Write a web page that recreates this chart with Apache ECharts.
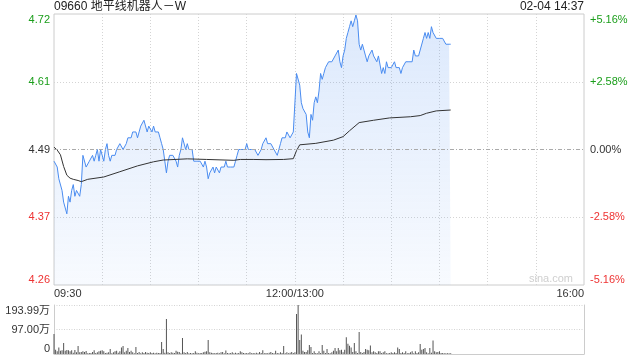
<!DOCTYPE html>
<html><head><meta charset="utf-8">
<script src="https://cdn.jsdelivr.net/npm/echarts@6/dist/echarts.min.js"></script>
<style>html,body{margin:0;padding:0;background:#fff}#c{width:640px;height:360px}</style>
</head><body><div id="c"></div>
<script>
const titleText = '09660 地平线机器人－W';
const timeText = '02-04 14:37';
const prevClose = 4.49;
const pctRange = 5.16;
const pctStep = 2.58;

// minute prices 09:30 .. 11:33
const priceAM = [4.47,4.47,4.46,4.44,4.44,4.42,4.40,4.39,4.38,4.41,4.40,4.42,4.43,4.41,
4.42,4.42,
4.41,4.43,4.48,4.48,4.46,4.46,4.47,4.47,4.48,4.47,4.48,4.49,4.47,4.49,4.48,4.47,4.49,4.50,4.48,4.47,4.48,4.48,4.48,4.49,4.49,4.50,4.50,
4.49,4.49,
4.50,4.51,4.51,4.51,4.52,4.52,4.52,4.51,4.52,4.53,4.53,4.54,4.54,4.52,4.53,4.53,4.52,4.53,4.52,4.52,4.52,4.51,4.50,4.49,4.47,4.45,4.47,
4.48,4.48,
4.48,4.48,4.47,4.46,4.48,4.49,4.51,4.51,4.49,4.50,4.49,4.49,4.49,4.47,4.47,4.47,4.47,4.47,4.47,4.46,4.47,4.46,4.44,4.45,4.45,4.46,4.45,
4.46,4.46,
4.45,4.46,4.46,4.46,4.47,4.46,4.46,4.46,4.46,4.46,4.47,4.48,4.49,4.49,4.49,4.49,4.49,4.50,4.49,4.49,4.49];
// minute prices 11:34 .. 14:37
const pricePM = [4.49,4.49,4.49,4.48,4.48,4.49,4.50,4.50,4.51,4.50,4.50,4.50,4.50,4.49,4.49,4.48,4.49,4.50,4.51,4.51,4.51,4.52,4.52,
4.51,4.51,
4.52,4.52,4.62,4.62,4.60,4.57,4.56,4.56,4.55,4.52,4.51,4.55,4.54,4.57,4.58,4.57,4.59,4.62,4.61,4.62,4.63,4.63,4.64,4.64,
4.64,4.64,
4.65,4.65,4.66,4.64,4.63,4.65,4.66,4.68,4.69,4.70,4.71,4.70,4.71,4.72,4.71,4.67,4.66,4.67,4.66,4.65,4.64,4.65,4.65,4.66,
4.65,4.65,
4.64,4.65,4.65,4.62,4.63,4.62,4.64,4.63,4.63,4.63,4.63,4.64,4.63,4.63,4.63,4.62,4.63,4.63,4.64,4.64,4.64,4.64,4.64,4.66,
4.65,4.65,
4.65,4.66,4.66,4.68,4.69,4.68,4.69,4.68,4.70,4.69,4.69,4.68,4.68,4.68,
4.68,4.68,
4.68,4.67,4.67,4.67,4.67];

const avgMinutes = [0,2,4,6,8,10,12,15,17,21,31,41,52,62,68,83,95,112,116,124,132,143,149,151,153,163,174,180,184,190,199,209,222,228,232,238,247];
const avgPrices = [4.494,4.489,4.481,4.461,4.446,4.441,4.439,4.437,4.435,4.439,4.443,4.452,4.462,4.469,4.472,4.474,4.473,4.4715,4.473,4.473,4.4726,4.473,4.4743,4.488,4.498,4.5005,4.506,4.512,4.522,4.536,4.540,4.544,4.546,4.548,4.552,4.556,4.5575];

// volume (万)
const volAM = [79,17,11,26,13,15,44,13,16,15,
11,15,5,16,7,32,7,8,11,8,
12,3,4,4,8,15,4,7,11,13,
15,11,4,5,7,20,3,7,11,13,
5,11,26,32,7,13,24,8,13,7,
3,28,4,8,3,7,4,8,5,4,
7,4,5,3,5,4,4,48,20,5,
139,7,4,7,5,4,13,9,8,3,
63,7,4,8,3,4,3,4,11,5,
3,4,4,7,9,11,55,7,5,4,
3,4,5,3,7,8,3,14,4,3,
4,7,3,5,3,4,11,7,4,3,
4,3,7,3];
const volPM = [4,3,5,3,8,4,15,3,4,3,
5,8,4,3,13,4,3,7,4,32,
3,7,3,5,8,4,7,158,193.99,55,
77,13,8,8,15,36,28,4,11,4,
3,11,4,36,13,4,20,4,3,7,
13,24,11,24,15,17,7,17,66,41,
33,26,8,44,11,4,
87,8,4,8,20,17,15,34,7,11,
7,4,11,11,4,7,11,3,3,4,
7,4,7,4,26,20,4,7,4,11,
3,4,7,11,3,11,4,7,40,17,
20,24,7,3,24,5,53,11,7,8,
11,4,4,3,3,3,3,3];
const volMax = 193.99;

const xTickIndex = [0, 150, 330];
const xTickLabels = ['09:30', '12:00/13:00', '16:00'];

const categories = [];
for (let i = 0; i <= 330; i++) {
  const k = xTickIndex.indexOf(i);
  if (k >= 0) { categories.push(xTickLabels[k]); continue; }
  const m = i < 150 ? 570 + i : 780 + (i - 150);
  categories.push(String(Math.floor(m / 60)).padStart(2, '0') + ':' + String(m % 60).padStart(2, '0'));
}

const prices = priceAM.concat(pricePM);
const vols = volAM.concat(volPM);
const toPct = p => (p / prevClose - 1) * 100;
const FONT = 'Arial, "Liberation Sans", "Noto Sans CJK SC", sans-serif';
const GREEN = '#1a9e1a', RED = '#ee3333', DARK = '#333';
const colorFor = v => v > 1e-6 ? GREEN : (v < -1e-6 ? RED : DARK);
const gridColor = '#d4d4d4';

const chart = echarts.init(document.getElementById('c'), null, {renderer: 'canvas'});
chart.setOption({
  animation: false,
  textStyle: {fontFamily: FONT},
  grid: [
    {left: 54, right: 56, top: 14, height: 271, show: true, borderColor: '#ccc', borderWidth: 1},
    {left: 54, right: 56, top: 305, height: 49}
  ],
  xAxis: [
    {gridIndex: 0, type: 'category', data: categories, boundaryGap: false,
     axisLine: {show: false}, axisTick: {show: false},
     axisLabel: {show: true, interval: (i) => xTickIndex.indexOf(i) >= 0, fontSize: 11, color: DARK, margin: 3,
                 alignMinLabel: 'left', alignMaxLabel: 'right', fontFamily: FONT},
     splitLine: {show: true, interval: (i) => i % 30 === 0 && i !== 0 && i !== 330,
                 lineStyle: {color: gridColor, type: [1, 2], width: 1}}},
    {gridIndex: 1, type: 'category', data: categories, boundaryGap: false,
     axisLine: {show: true, lineStyle: {color: '#ccc'}}, axisTick: {show: false},
     axisLabel: {show: false}, splitLine: {show: false}}
  ],
  yAxis: [
    {gridIndex: 0, type: 'value', min: -pctRange, max: pctRange, interval: pctStep, position: 'left',
     axisLine: {show: false}, axisTick: {show: false},
     splitLine: {show: true, lineStyle: {color: ['transparent', gridColor, 'transparent', gridColor, 'transparent'], type: [1, 2]}},
     axisLabel: {fontSize: 11, margin: 4, color: colorFor, fontFamily: FONT,
                 formatter: v => (prevClose * (1 + v / 100)).toFixed(2),
                 verticalAlignMinLabel: 'bottom', verticalAlignMaxLabel: 'top'}},
    {gridIndex: 0, type: 'value', min: -pctRange, max: pctRange, interval: pctStep, position: 'right',
     axisLine: {show: false}, axisTick: {show: false}, splitLine: {show: false},
     axisLabel: {fontSize: 11, margin: 6, color: colorFor, fontFamily: FONT,
                 formatter: v => Math.abs(v) < 1e-6 ? '0.00%' : (v > 0 ? '+' : '') + v.toFixed(2) + '%',
                 verticalAlignMinLabel: 'bottom', verticalAlignMaxLabel: 'top'}},
    {gridIndex: 1, type: 'value', min: 0, max: volMax, interval: volMax / 2, position: 'left',
     axisLine: {show: true, lineStyle: {color: '#ccc'}}, axisTick: {show: false},
     splitLine: {show: true, lineStyle: {color: ['transparent', gridColor, gridColor], type: [1, 1.5]}},
     axisLabel: {fontSize: 11, margin: 4, color: DARK, fontFamily: FONT,
                 formatter: v => v < 1e-6 ? '0' : (v + 1e-9).toFixed(2) + '万',
                 verticalAlignMinLabel: 'bottom', verticalAlignMaxLabel: 'top'}},
    {gridIndex: 1, type: 'value', min: 0, max: volMax, position: 'right',
     axisLine: {show: true, lineStyle: {color: '#ccc'}}, axisTick: {show: false},
     axisLabel: {show: false}, splitLine: {show: false}}
  ],
  series: [
    {type: 'line', xAxisIndex: 0, yAxisIndex: 0, data: prices.map(toPct), symbol: 'none', showSymbol: false,
     lineStyle: {color: '#4a8cf0', width: 1},
     areaStyle: {origin: 'start', color: new echarts.graphic.LinearGradient(0, 0, 0, 1, [
       {offset: 0, color: 'rgba(74,140,240,0.28)'}, {offset: 1, color: 'rgba(74,140,240,0.06)'}])},
     markLine: {silent: true, symbol: 'none', label: {show: false}, animation: false,
                lineStyle: {color: '#aaa', type: [4, 2, 1, 2], width: 1}, data: [{yAxis: 0}]}},
    {type: 'line', xAxisIndex: 0, yAxisIndex: 0, data: avgMinutes.map((m, i) => [m, toPct(avgPrices[i])]),
     symbol: 'none', showSymbol: false, lineStyle: {color: '#333', width: 1}, z: 3},
    {type: 'bar', xAxisIndex: 1, yAxisIndex: 2, data: vols, barWidth: 1, itemStyle: {color: '#555'}}
  ],
  graphic: [
    {type: 'text', x: 54, y: 7, style: {text: titleText, font: '12px ' + FONT, fill: '#222', align: 'left', verticalAlign: 'middle'}},
    {type: 'text', x: 584, y: 7, style: {text: timeText, font: '12px ' + FONT, fill: '#222', align: 'right', verticalAlign: 'middle'}},
    {type: 'text', x: 573, y: 279, style: {text: 'sina.com', font: '11px ' + FONT, fill: '#cfcfcf', align: 'right', verticalAlign: 'middle'}}
  ]
});
</script>
</body></html>
